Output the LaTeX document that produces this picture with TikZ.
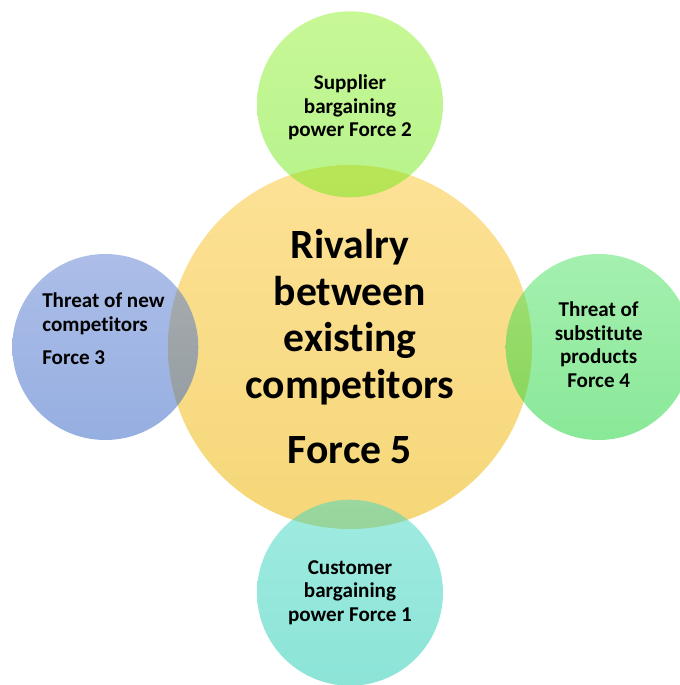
\documentclass[tikz,border=0pt]{standalone}
\usepackage{fontspec}
\setmainfont{Carlito}[Ligatures=NoCommon]
\usetikzlibrary{positioning}

\definecolor{coreTop}{HTML}{FDE196}
\definecolor{coreBot}{HTML}{F5D778}
\definecolor{suppTop}{HTML}{91F12D}
\definecolor{suppBot}{HTML}{6EE819}
\definecolor{newTop}{HTML}{597DD1}
\definecolor{newBot}{HTML}{2D5FC3}
\definecolor{subsTop}{HTML}{4BE15F}
\definecolor{subsBot}{HTML}{14D232}
\definecolor{custTop}{HTML}{41D7C3}
\definecolor{custBot}{HTML}{19C9AF}

\tikzset{
  core/.style={circle, minimum size=72.8mm, inner sep=0pt, shade,
    top color=coreTop, bottom color=coreBot},
  force/.style={circle, minimum size=37.2mm, inner sep=0pt, shade, fill opacity=.5},
  coretext/.style={font=\fontsize{23.7}{26.4}\selectfont\bfseries, align=center, inner sep=0pt},
  forcetext/.style={font=\fontsize{12}{13.4}\selectfont\bfseries, align=center, inner sep=0pt}
}

\begin{document}
\begin{tikzpicture}
  \useasboundingbox (0,0) rectangle (13.6,13.7);

  % rivalry in the middle, the four outer forces overlapping it
  \node[core] (f5) at (7.0,6.76) {};
  \node[force, top color=suppTop, bottom color=suppBot, above=-6.6mm of f5] (f2) {};
  \node[force, top color=newTop, bottom color=newBot, left=-6.2mm of f5] (f3) {};
  \node[force, top color=subsTop, bottom color=subsBot, right=-5.4mm of f5] (f4) {};
  \node[force, top color=custTop, bottom color=custBot, below=-6.0mm of f5] (f1) {};

  % labels
  \node[coretext] (t5) at (f5) {Rivalry\\between\\existing\\competitors\\[11.1pt]Force 5};
  \node[forcetext] (t2) at ([yshift=-0.6mm]f2.center) {Supplier\\bargaining\\power Force 2};
  \node[forcetext, align=left, anchor=west] (t3) at ([xshift=6mm, yshift=3.7mm]f3.west) {Threat of new\\competitors\\[5.4pt]Force 3};
  \node[forcetext] (t4) at ([yshift=0.5mm]f4.center) {Threat of\\substitute\\products\\Force 4};
  \node[forcetext] (t1) at (f1) {Customer\\bargaining\\power Force 1};
\end{tikzpicture}
\end{document}
